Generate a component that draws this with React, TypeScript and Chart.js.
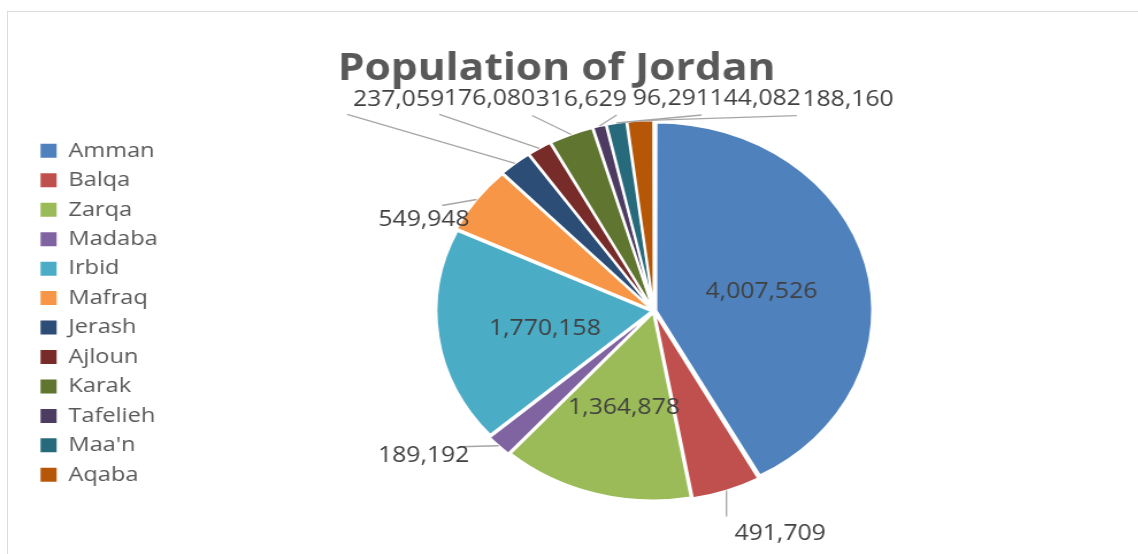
import React, { useEffect, useRef } from 'react';
import { Chart, registerables, DoughnutController } from 'chart.js';

Chart.register(...registerables);

// ---- data ----
const categories = ['Amman', 'Balqa', 'Zarqa', 'Madaba', 'Irbid', 'Mafraq', 'Jerash', 'Ajloun', 'Karak', 'Tafelieh', "Maa'n", 'Aqaba'];
const population = [4007526, 491709, 1364878, 189192, 1770158, 549948, 237059, 176080, 316629, 96291, 144082, 188160];
const sliceColors = ['#4F81BD', '#C0504D', '#9BBB59', '#8064A2', '#4BACC6', '#F79646', '#2C4D75', '#772C2A', '#5F7530', '#4D3B62', '#276A7C', '#B65708'];
const chartTitle = 'Population of Jordan';

// ---- label layout (offsets from each slice's outer edge at its mid-angle) ----
type Place =
  | { mode: 'in' }
  | { mode: 'out'; text: [number, number]; align: CanvasTextAlign; line: [number, number] };

const labelPlacement: Place[] = [
  { mode: 'in' },
  { mode: 'out', text: [7, 41], align: 'left', line: [0, 26] },
  { mode: 'in' },
  { mode: 'out', text: [-25.5, 8], align: 'right', line: [-34.5, 1] },
  { mode: 'in' },
  { mode: 'out', text: [-6, 18], align: 'right', line: [-30, 6] },
  { mode: 'out', text: [-141, -66], align: 'left', line: [-146, -49] },
  { mode: 'out', text: [-83, -51], align: 'left', line: [-87, -34] },
  { mode: 'out', text: [-31, -37], align: 'left', line: [-34, -19] },
  { mode: 'out', text: [29, -29], align: 'left', line: [15, -11] },
  { mode: 'out', text: [81, -26], align: 'left', line: [74, -8] },
  { mode: 'out', text: [141, -23], align: 'left', line: [136, -5] },
];

const STRETCH = 1.15;
const CANVAS_W = 1020;
const CANVAS_H = 554;
const SLICE_OFFSET = 8;
const TITLE_X = 484;
const TITLE_BASELINE = 80;
const LABEL_DY = 2;
const INSIDE_EXTRA_DY = 3;

const labelPlugin = {
  id: 'pieLabels',
  afterDatasetsDraw(chart: any) {
    const meta = chart.getDatasetMeta(0);
    const ctx: CanvasRenderingContext2D = chart.ctx;
    ctx.save();
    ctx.font = '21.5px "Open Sans"';
    ctx.fillStyle = '#404040';
    ctx.textBaseline = 'middle';
    meta.data.forEach((arc: any, i: number) => {
      const { x, y, startAngle, endAngle, outerRadius, circumference } = arc.getProps(
        ['x', 'y', 'startAngle', 'endAngle', 'outerRadius', 'circumference'],
        true
      );
      const mid = (startAngle + endAngle) / 2;
      const c = Math.cos(mid);
      const s = Math.sin(mid);
      const fix = 1 - Math.sin(Math.min(Math.PI, circumference || 0));
      const shift = (SLICE_OFFSET / 4) * (1 + fix);
      const text = population[i].toLocaleString('en-US');
      const p = labelPlacement[i];
      if (p.mode === 'in') {
        const d = outerRadius / 2 + shift;
        ctx.textAlign = 'center';
        ctx.fillText(text, x + c * d, y + s * d + LABEL_DY + INSIDE_EXTRA_DY);
      } else {
        const d = outerRadius + shift;
        const ex = x + c * d;
        const ey = y + s * d;
        ctx.strokeStyle = '#a6a6a6';
        ctx.lineWidth = 1.3;
        ctx.beginPath();
        ctx.moveTo(ex, ey);
        ctx.lineTo(ex + p.line[0], ey + p.line[1]);
        ctx.stroke();
        ctx.textAlign = p.align;
        ctx.fillText(text, ex + p.text[0], ey + p.text[1] + LABEL_DY);
      }
    });
    ctx.restore();
  },
  afterDraw(chart: any) {
    const ctx: CanvasRenderingContext2D = chart.ctx;
    ctx.save();
    ctx.font = 'bold 37px "Open Sans"';
    ctx.fillStyle = '#595959';
    ctx.textAlign = 'center';
    ctx.textBaseline = 'alphabetic';
    ctx.fillText(chartTitle, TITLE_X, TITLE_BASELINE);
    ctx.restore();
  },
};

export default function App() {
  const canvasRef = useRef<HTMLCanvasElement | null>(null);

  useEffect(() => {
    if (!canvasRef.current) return;
    const baseGenerate = (DoughnutController as any).overrides.plugins.legend.labels.generateLabels;
    const chart = new Chart(canvasRef.current, {
      type: 'pie',
      data: {
        labels: categories,
        datasets: [
          {
            data: population,
            backgroundColor: sliceColors,
            borderColor: '#ffffff',
            borderWidth: 2,
            offset: SLICE_OFFSET,
            radius: 187,
          } as any,
        ],
      },
      options: {
        animation: false,
        responsive: true,
        maintainAspectRatio: false,
        layout: { padding: { left: 26.3, top: 101, bottom: 33, right: 30 } },
        plugins: {
          title: { display: false },
          tooltip: { enabled: false },
          legend: {
            display: true,
            position: 'left',
            align: 'center',
            title: { display: true, text: '', padding: 0, font: { size: 3 } },
            labels: {
              boxWidth: 14,
              boxHeight: 14,
              padding: 8.95,
              color: '#595959',
              font: { family: '"Open Sans"', size: 20.5 },
              generateLabels: (c: any) =>
                baseGenerate(c).map((item: any) => ({ ...item, lineWidth: 0 })),
            },
          },
        },
      },
      plugins: [labelPlugin],
    });
    return () => chart.destroy();
  }, []);

  return (
    <div
      style={{
        position: 'fixed',
        left: 0,
        top: 0,
        width: 1138,
        height: 554,
        overflow: 'hidden',
        background: '#ffffff',
      }}
    >
      <div
        style={{
          position: 'absolute',
          left: 7,
          top: 11,
          width: 2000,
          height: 2000,
          borderTop: '1.5px solid #dcdcdc',
          borderLeft: '1.5px solid #dcdcdc',
        }}
      />
      <div
        style={{
          position: 'absolute',
          left: 0,
          top: 0,
          width: CANVAS_W,
          height: CANVAS_H,
          transform: `scaleX(${STRETCH})`,
          transformOrigin: '0 0',
        }}
      >
        <canvas ref={canvasRef} />
      </div>
    </div>
  );
}
